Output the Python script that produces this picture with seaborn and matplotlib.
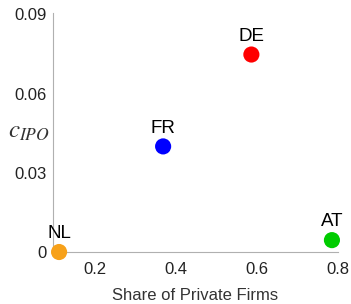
import matplotlib
matplotlib.use("Agg")
import matplotlib.pyplot as plt
import seaborn as sns
import pandas as pd

# values
countries = ["NL", "FR", "DE", "AT"]
share_private = [0.111, 0.368, 0.586, 0.785]
c_ipo = [0.0, 0.040, 0.0748, 0.0045]
colors = ["#F7A11A", "#0000FF", "#FF0000", "#00CC00"]

x_ticks = [0.2, 0.4, 0.6, 0.8]
y_ticks = [0, 0.03, 0.06, 0.09]
y_ticklabels = ["0", "0.03", "0.06", "0.09"]

df = pd.DataFrame({"country": countries, "share": share_private, "cipo": c_ipo})

sns.set_style("white")
plt.rcParams['font.family'] = ['Liberation Sans', 'DejaVu Sans']
plt.rcParams['mathtext.fontset'] = 'stix'

fig = plt.figure(figsize=(3.51, 3.04), dpi=100)
ax = fig.add_axes([0.151, 0.171, 0.812, 0.786])

sns.scatterplot(data=df, x="share", y="cipo", hue="country", palette=colors,
                s=135, linewidth=0, legend=False, ax=ax, clip_on=False, zorder=3)

for name, xv, yv in zip(countries, share_private, c_ipo):
    ax.annotate(name, (xv, yv), xytext=(0, 7), textcoords="offset points",
                ha="center", va="bottom", fontsize=13.5, color="black")

ax.set_xlim(0.096, 0.8)
ax.set_ylim(0, 0.0905)
ax.set_xticks(x_ticks)
ax.set_xticklabels([f"{t:.1f}" for t in x_ticks])
ax.set_yticks(y_ticks)
ax.set_yticklabels(y_ticklabels)

for side in ["top", "right"]:
    ax.spines[side].set_visible(False)
for side in ["left", "bottom"]:
    ax.spines[side].set_color("#b0b0b0")
    ax.spines[side].set_linewidth(0.8)

ax.tick_params(axis="both", direction="in", length=3, width=0.8, color="#b0b0b0",
               labelsize=12, labelcolor="#222222")
ax.tick_params(axis="x", pad=7)
ax.tick_params(axis="y", pad=4.5)

ax.set_xlabel("Share of Private Firms", fontsize=12, color="#333333", labelpad=8)
ax.set_ylabel(r"$c_{IPO}$", fontsize=18, rotation=0, color="#333333", va="center")
ax.yaxis.set_label_coords(-0.085, 0.505)

fig.savefig("out.png", dpi=100)
